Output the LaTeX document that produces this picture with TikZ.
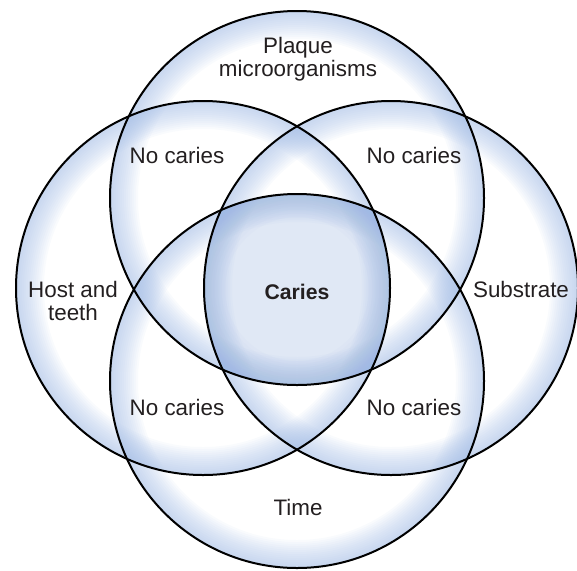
\documentclass[tikz,border=0pt]{standalone}
\usepackage{fontspec}
\setmainfont{Liberation Sans}
\usepackage{xcolor}
\definecolor{rimblue}{RGB}{160,186,228}
\definecolor{coreblue}{RGB}{150,178,222}
\definecolor{corelight}{RGB}{224,232,245}
\definecolor{inktext}{RGB}{35,31,32}

\begin{document}
\begin{tikzpicture}[x=0.5pt, y=0.5pt, line width=1pt,
    glow/.style={fill=rimblue, fill opacity=0.06, even odd rule},
    coreshade/.style={fill=coreblue, fill opacity=0.04, even odd rule},
    lbl/.style={font=\fontsize{11.2}{11.5}\selectfont, text=inktext, align=center, inner sep=0pt}]
    \useasboundingbox (0,0) rectangle (577,570);
    \coordinate (P) at (297,372);
    \coordinate (H) at (203,282);
    \coordinate (S) at (391,282);
    \coordinate (T) at (297,189);
    \coordinate (K) at (297,281);

    % where all four overlap
    \begin{scope}
        \clip (P) circle[radius=187];
        \clip (H) circle[radius=187];
        \clip (S) circle[radius=187];
        \clip (T) circle[radius=187];
        \fill[corelight] (K) circle[radius=150];
        \foreach \k in {0,...,19}
            \fill[coreshade] (K) circle[radius=150] circle[radius=72+3.5*\k];
    \end{scope}

    % glow along the rim of every circle
    \foreach \c in {P,H,S,T}
        \foreach \k in {1,...,14}
            \fill[glow] (\c) circle[radius=187] circle[radius=187-2*\k];

    \foreach \c in {P,H,S,T}
        \draw (\c) circle[radius=187];

    \node[lbl] (plaque) at (298,511) {Plaque\\microorganisms};
    \node[lbl] (host) at (73,269) {Host and\\teeth};
    \node[lbl] (substrate) at (521,281) {Substrate};
    \node[lbl] (time) at (298,63) {Time};
    \node[lbl, font=\fontsize{10.6}{12}\selectfont\bfseries] (caries) at (297,278) {Caries};

    \node[lbl] (ncPH) at (177,415) {No caries};
    \node[lbl] (ncPS) at (414,415) {No caries};
    \node[lbl] (ncHT) at (177,163) {No caries};
    \node[lbl] (ncST) at (414,163) {No caries};
\end{tikzpicture}
\end{document}
